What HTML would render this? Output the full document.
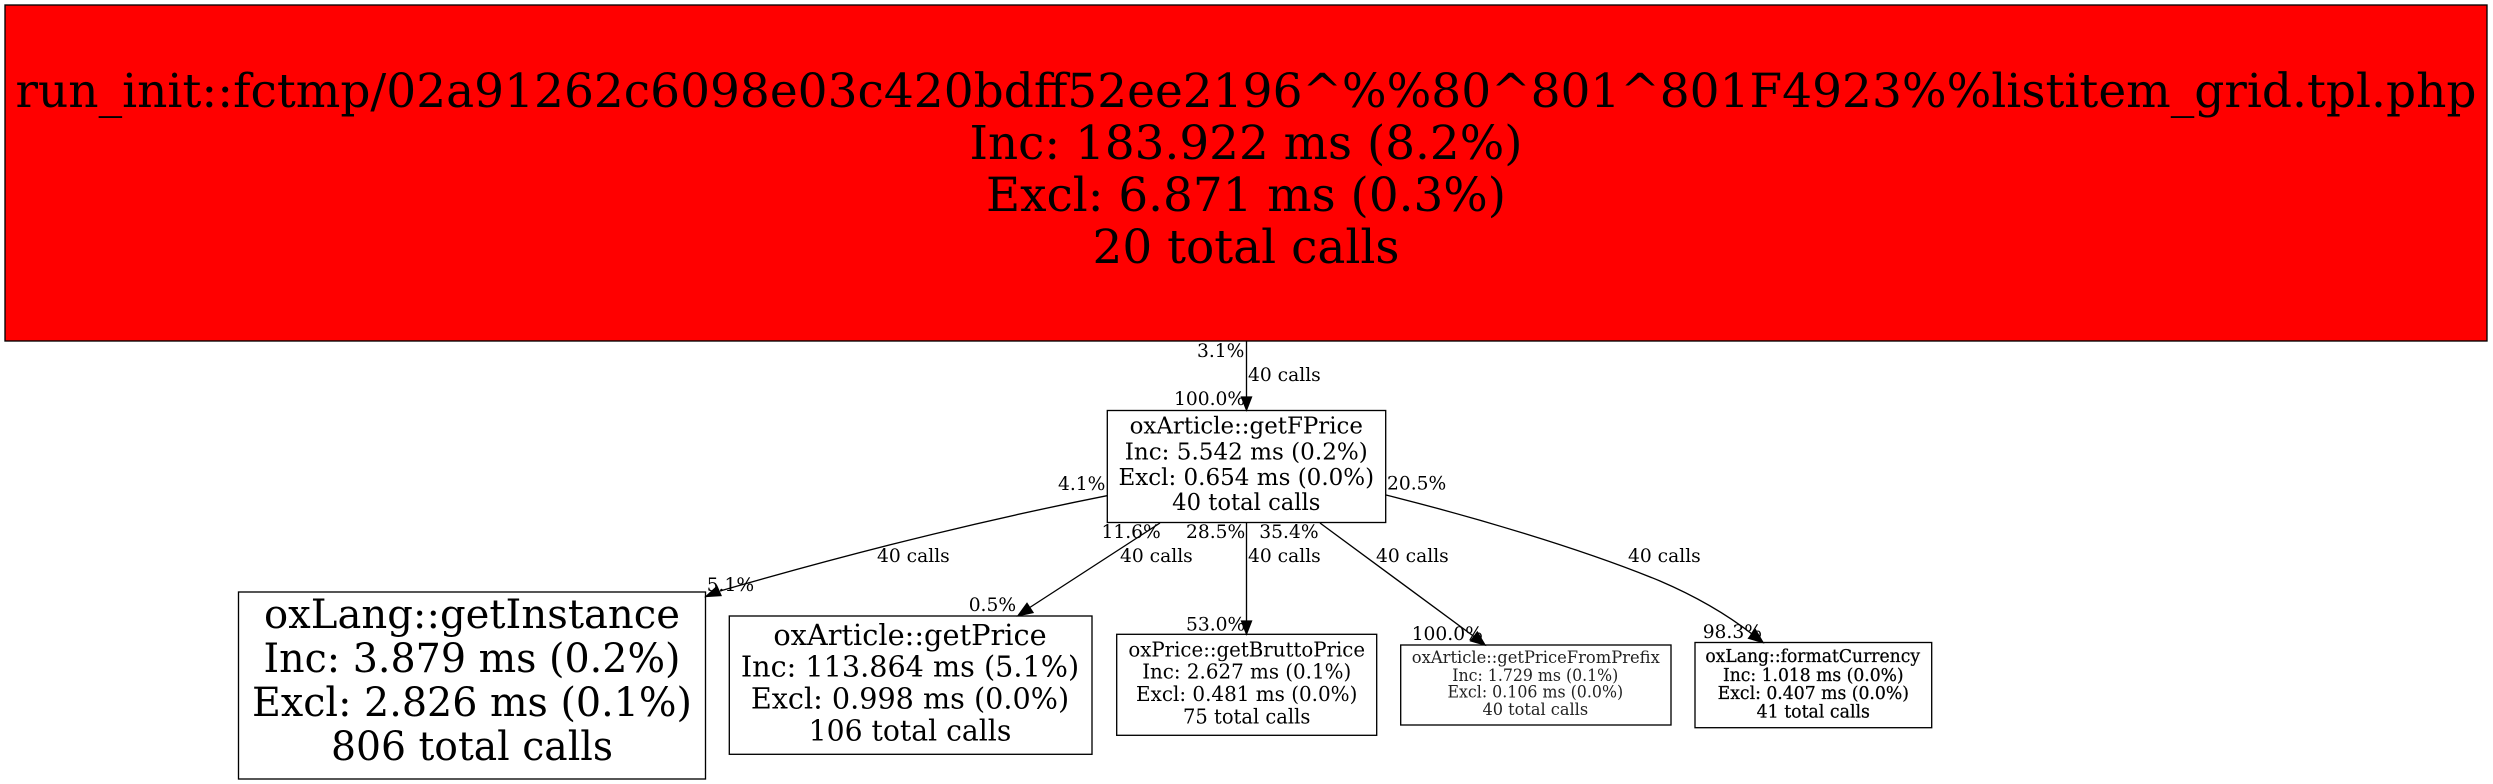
<!DOCTYPE html>
<html><head><meta charset="utf-8"><style>
html,body{margin:0;padding:0;background:#fff}
svg{display:block}
text{font-family:"DejaVu Serif",serif;fill:#000;text-anchor:middle}
.e text{font-size:18.67px;text-anchor:start}
rect{stroke:#000;stroke-width:1.33}
path.l{fill:none;stroke:#000;stroke-width:1.33}
path.h{fill:#000;stroke:#000;stroke-width:1.33}
</style></head><body>
<svg width="2493" height="784" viewBox="0 0 2493 784" xmlns="http://www.w3.org/2000/svg">
<rect x="5" y="5" width="2482" height="336" fill="#f00"/>
<g font-size="47" lengthAdjust="spacingAndGlyphs"><text x="1246" y="107" textLength="2461" lengthAdjust="spacingAndGlyphs">run_init::fctmp/02a91262c6098e03c420bdff52ee2196^%%80^801^801F4923%%listitem_grid.tpl.php</text>
<text x="1246" y="159" textLength="553" lengthAdjust="spacingAndGlyphs">Inc: 183.922 ms (8.2%)</text>
<text x="1246" y="211" textLength="520" lengthAdjust="spacingAndGlyphs">Excl: 6.871 ms (0.3%)</text>
<text x="1246" y="263" textLength="307" lengthAdjust="spacingAndGlyphs">20 total calls</text></g>

<rect x="1107.3" y="410.5" width="278.4" height="112" fill="#fff"/>
<g font-size="23"><text x="1246.3" y="433.5" textLength="233.3" lengthAdjust="spacingAndGlyphs">oxArticle::getFPrice</text>
<text x="1246.3" y="459.3" textLength="243" lengthAdjust="spacingAndGlyphs">Inc: 5.542 ms (0.2%)</text>
<text x="1246.3" y="485" textLength="255.7" lengthAdjust="spacingAndGlyphs">Excl: 0.654 ms (0.0%)</text>
<text x="1246.3" y="510" textLength="148.3" lengthAdjust="spacingAndGlyphs">40 total calls</text></g>

<rect x="238.5" y="592" width="467" height="187" fill="#fff"/>
<g font-size="40"><text x="472" y="628" textLength="416" lengthAdjust="spacingAndGlyphs">oxLang::getInstance</text>
<text x="472" y="672" textLength="417" lengthAdjust="spacingAndGlyphs">Inc: 3.879 ms (0.2%)</text>
<text x="472" y="716" textLength="440" lengthAdjust="spacingAndGlyphs">Excl: 2.826 ms (0.1%)</text>
<text x="472" y="760" textLength="282" lengthAdjust="spacingAndGlyphs">806 total calls</text></g>

<rect x="729.3" y="616" width="362.7" height="138.3" fill="#fff"/>
<g font-size="29.3"><text x="910" y="645" textLength="273.3" lengthAdjust="spacingAndGlyphs">oxArticle::getPrice</text>
<text x="910" y="676.7" textLength="338.3" lengthAdjust="spacingAndGlyphs">Inc: 113.864 ms (5.1%)</text>
<text x="910" y="708.3" textLength="318.3" lengthAdjust="spacingAndGlyphs">Excl: 0.998 ms (0.0%)</text>
<text x="910" y="740.7" textLength="202.7" lengthAdjust="spacingAndGlyphs">106 total calls</text></g>

<rect x="1116.7" y="634.3" width="260" height="101" fill="#fff"/>
<g font-size="20.4"><text x="1246.7" y="656.7" textLength="236.7" lengthAdjust="spacingAndGlyphs">oxPrice::getBruttoPrice</text>
<text x="1246.7" y="678.3" textLength="209" lengthAdjust="spacingAndGlyphs">Inc: 2.627 ms (0.1%)</text>
<text x="1246.7" y="701" textLength="221.3" lengthAdjust="spacingAndGlyphs">Excl: 0.481 ms (0.0%)</text>
<text x="1246.7" y="723.3" textLength="127.3" lengthAdjust="spacingAndGlyphs">75 total calls</text></g>

<rect x="1400.7" y="645" width="270.3" height="80" fill="#fff"/>
<g font-size="16.3"><text x="1535.8" y="663" style="fill:#222" textLength="248" lengthAdjust="spacingAndGlyphs">oxArticle::getPriceFromPrefix</text>
<text x="1535.3" y="681" style="fill:#222" textLength="166" lengthAdjust="spacingAndGlyphs">Inc: 1.729 ms (0.1%)</text>
<text x="1535.3" y="697.7" style="fill:#222" textLength="175.7" lengthAdjust="spacingAndGlyphs">Excl: 0.106 ms (0.0%)</text>
<text x="1535.3" y="715" style="fill:#222" textLength="105.7" lengthAdjust="spacingAndGlyphs">40 total calls</text></g>

<rect x="1695" y="642.5" width="236.7" height="85.2" fill="#fff"/>
<g font-size="17.4" stroke="#000" stroke-width="0.25"><text x="1812.7" y="662" textLength="214.7" lengthAdjust="spacingAndGlyphs">oxLang::formatCurrency</text>
<text x="1813.3" y="681" textLength="180.7" lengthAdjust="spacingAndGlyphs">Inc: 1.018 ms (0.0%)</text>
<text x="1813.3" y="699" textLength="191.3" lengthAdjust="spacingAndGlyphs">Excl: 0.407 ms (0.0%)</text>
<text x="1813.3" y="717.7" textLength="113.3" lengthAdjust="spacingAndGlyphs">41 total calls</text></g>

<path class="l" d="M1246.5,341V397"/><path class="h" d="M1241.5,397L1246.5,410L1251.5,397Z"/>
<path class="l" d="M1107,495.7C1000,517 880,545 720,591"/><path class="h" d="M717,586.5L706,596.5L721,595.5Z"/>
<path class="l" d="M1160,523L1029,608"/><path class="h" d="M1027,603.4L1018,615.7L1033,612.6Z"/>
<path class="l" d="M1246.5,523V621"/><path class="h" d="M1241.5,621L1246.5,634L1251.5,621Z"/>
<path class="l" d="M1320,523L1474,636.5"/><path class="h" d="M1477.3,632.1L1485,645L1470.7,640.9Z"/>
<path class="l" d="M1386,495C1470,516 1580,548 1660,581C1695,596 1725,613 1752,634"/><path class="h" d="M1755.4,629.7L1763,642.5L1748.6,638.3Z"/>

<g class="e">
<text x="1197" y="357">3.1%</text>
<text x="1248" y="381">40 calls</text>
<text x="1174" y="405">100.0%</text>
<text x="1058" y="490">4.1%</text>
<text x="1387" y="489.5">20.5%</text>
<text x="1101.5" y="538">11.6%</text>
<text x="1186" y="538">28.5%</text>
<text x="1259.3" y="538">35.4%</text>
<text x="877" y="562">40 calls</text>
<text x="1120" y="562">40 calls</text>
<text x="1248" y="562">40 calls</text>
<text x="1376" y="562">40 calls</text>
<text x="1628" y="562">40 calls</text>
<text x="706.7" y="591">5.1%</text>
<text x="968.7" y="611">0.5%</text>
<text x="1186" y="630.7">53.0%</text>
<text x="1411.7" y="640">100.0%</text>
<text x="1702.7" y="638">98.3%</text>
</g>
</svg>
</body></html>
